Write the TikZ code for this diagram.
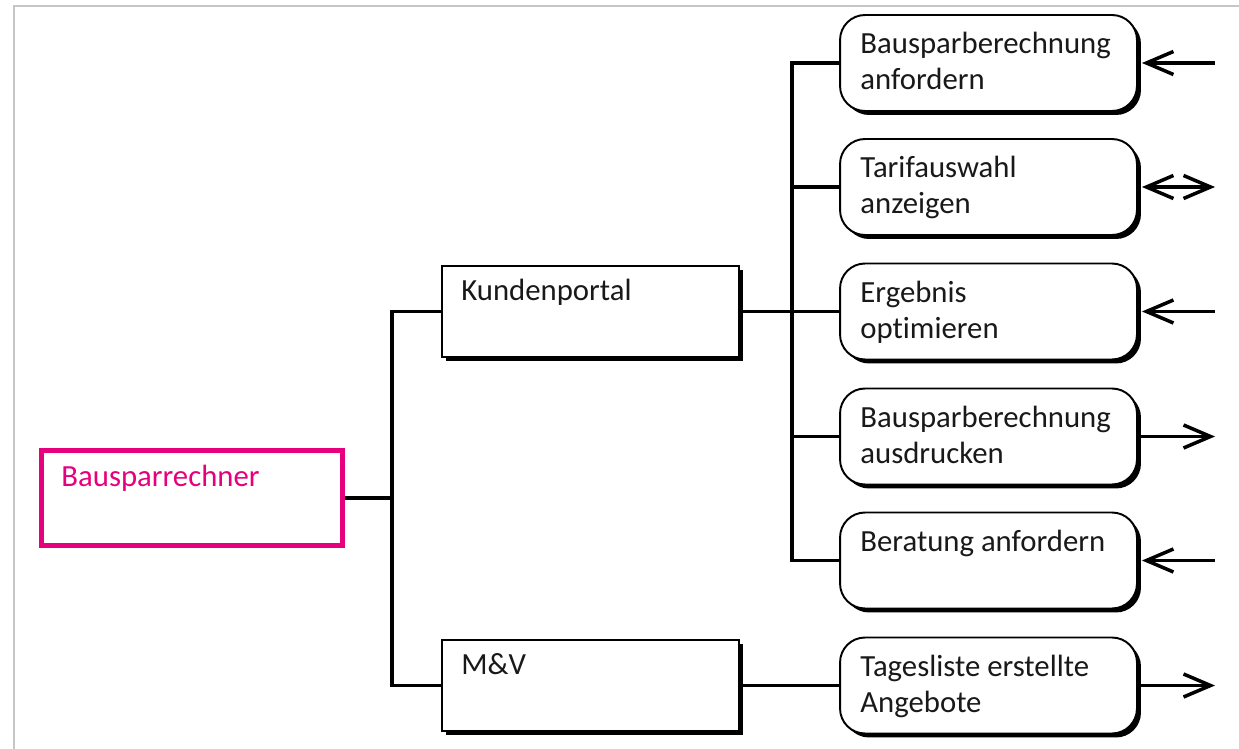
\documentclass[tikz,border=0pt]{standalone}
\usepackage{fontspec}
\setmainfont{Carlito}[Ligatures=NoCommon]
\usetikzlibrary{arrows.meta,shadows}
\definecolor{tmagenta}{RGB}{230,0,126}
\begin{document}
\begin{tikzpicture}[x=0.02cm, y=-0.02cm,
    every node/.style={font=\fontsize{17.5}{20.5}\selectfont},
    txt/.style={anchor=north west, inner sep=0pt, align=left, text=black!90},
    schatten/.style={drop shadow={shadow xshift=0.08cm, shadow yshift=-0.08cm, fill=black, opacity=1}},
    wurzel/.style={draw=tmagenta, line width=2.8pt, fill=white, minimum width=6.02cm, minimum height=1.9cm, inner sep=0pt},
    modul/.style={draw, line width=1.1pt, fill=white, minimum width=5.94cm, minimum height=1.82cm, inner sep=0pt, schatten},
    funktion/.style={draw, line width=1.1pt, fill=white, rounded corners=0.5cm, minimum width=5.94cm, minimum height=1.92cm, inner sep=0pt, schatten},
    conn/.style={line width=2pt},
    >={Straight Barb[length=0.54cm,width=0.46cm]}]
  \useasboundingbox (0,0) rectangle (1239,749);
  \draw[gray!45, line width=1.2pt] (14,749) -- (14,6) -- (1239,6);

  % boxes
  \node[wurzel] (root) at (192,498) {};
  \node[modul] (kp) at (590.5,311.5) {};
  \node[modul] (mv) at (590.5,685.5) {};
  \node[funktion] (r1) at (988.5,63) {};
  \node[funktion] (r2) at (988.5,187) {};
  \node[funktion] (r3) at (988.5,311.5) {};
  \node[funktion] (r4) at (988.5,436.5) {};
  \node[funktion] (r5) at (988.5,560.5) {};
  \node[funktion] (r6) at (988.5,685.5) {};

  % texts
  \node[txt, text=tmagenta] (troot) at ([shift={(22,17)}]root.north west) {Bausparrechner};
  \node[txt] (tkp) at ([shift={(20,14)}]kp.north west) {Kundenportal};
  \node[txt] (tmv) at ([shift={(20,14)}]mv.north west) {M\&V};
  \node[txt] (t1) at ([shift={(21,18)}]r1.north west) {Bausparberechnung\\anfordern};
  \node[txt] (t2) at ([shift={(21,18)}]r2.north west) {Tarifauswahl\\anzeigen};
  \node[txt] (t3) at ([shift={(21,18)}]r3.north west) {Ergebnis\\optimieren};
  \node[txt] (t4) at ([shift={(21,18)}]r4.north west) {Bausparberechnung\\ausdrucken};
  \node[txt] (t5) at ([shift={(21,18)}]r5.north west) {Beratung anfordern};
  \node[txt] (t6) at ([shift={(21,18)}]r6.north west) {Tagesliste erstellte\\Angebote};

  % tree lines
  \coordinate (j1) at (392,498);
  \coordinate (j2) at (792,311.5);
  \draw[conn] (root.east) -- (j1);
  \draw[conn] (kp.west) -| (j1) |- (mv.west);
  \draw[conn] (kp.east) -- (r3.west);
  \draw[conn] (r1.west) -| (j2) |- (r5.west);
  \draw[conn] (r2.west) -- (r2.west -| j2);
  \draw[conn] (r4.west) -- (r4.west -| j2);
  \draw[conn] (mv.east) -- (r6.west);

  % interfaces
  \coordinate (e1) at (1215,63);
  \coordinate (e2) at (1215,187);
  \coordinate (e3) at (1215,311.5);
  \coordinate (e4) at (1215,436.5);
  \coordinate (e5) at (1215,560.5);
  \coordinate (e6) at (1215,685.5);
  \draw[conn, <-, shorten <=0.08cm] (r1.east) -- (e1);
  \draw[conn, <->, shorten <=0.08cm] (r2.east) -- (e2);
  \draw[conn, <-, shorten <=0.08cm] (r3.east) -- (e3);
  \draw[conn, ->] (r4.east) -- (e4);
  \draw[conn, <-, shorten <=0.08cm] (r5.east) -- (e5);
  \draw[conn, ->] (r6.east) -- (e6);
\end{tikzpicture}
\end{document}
